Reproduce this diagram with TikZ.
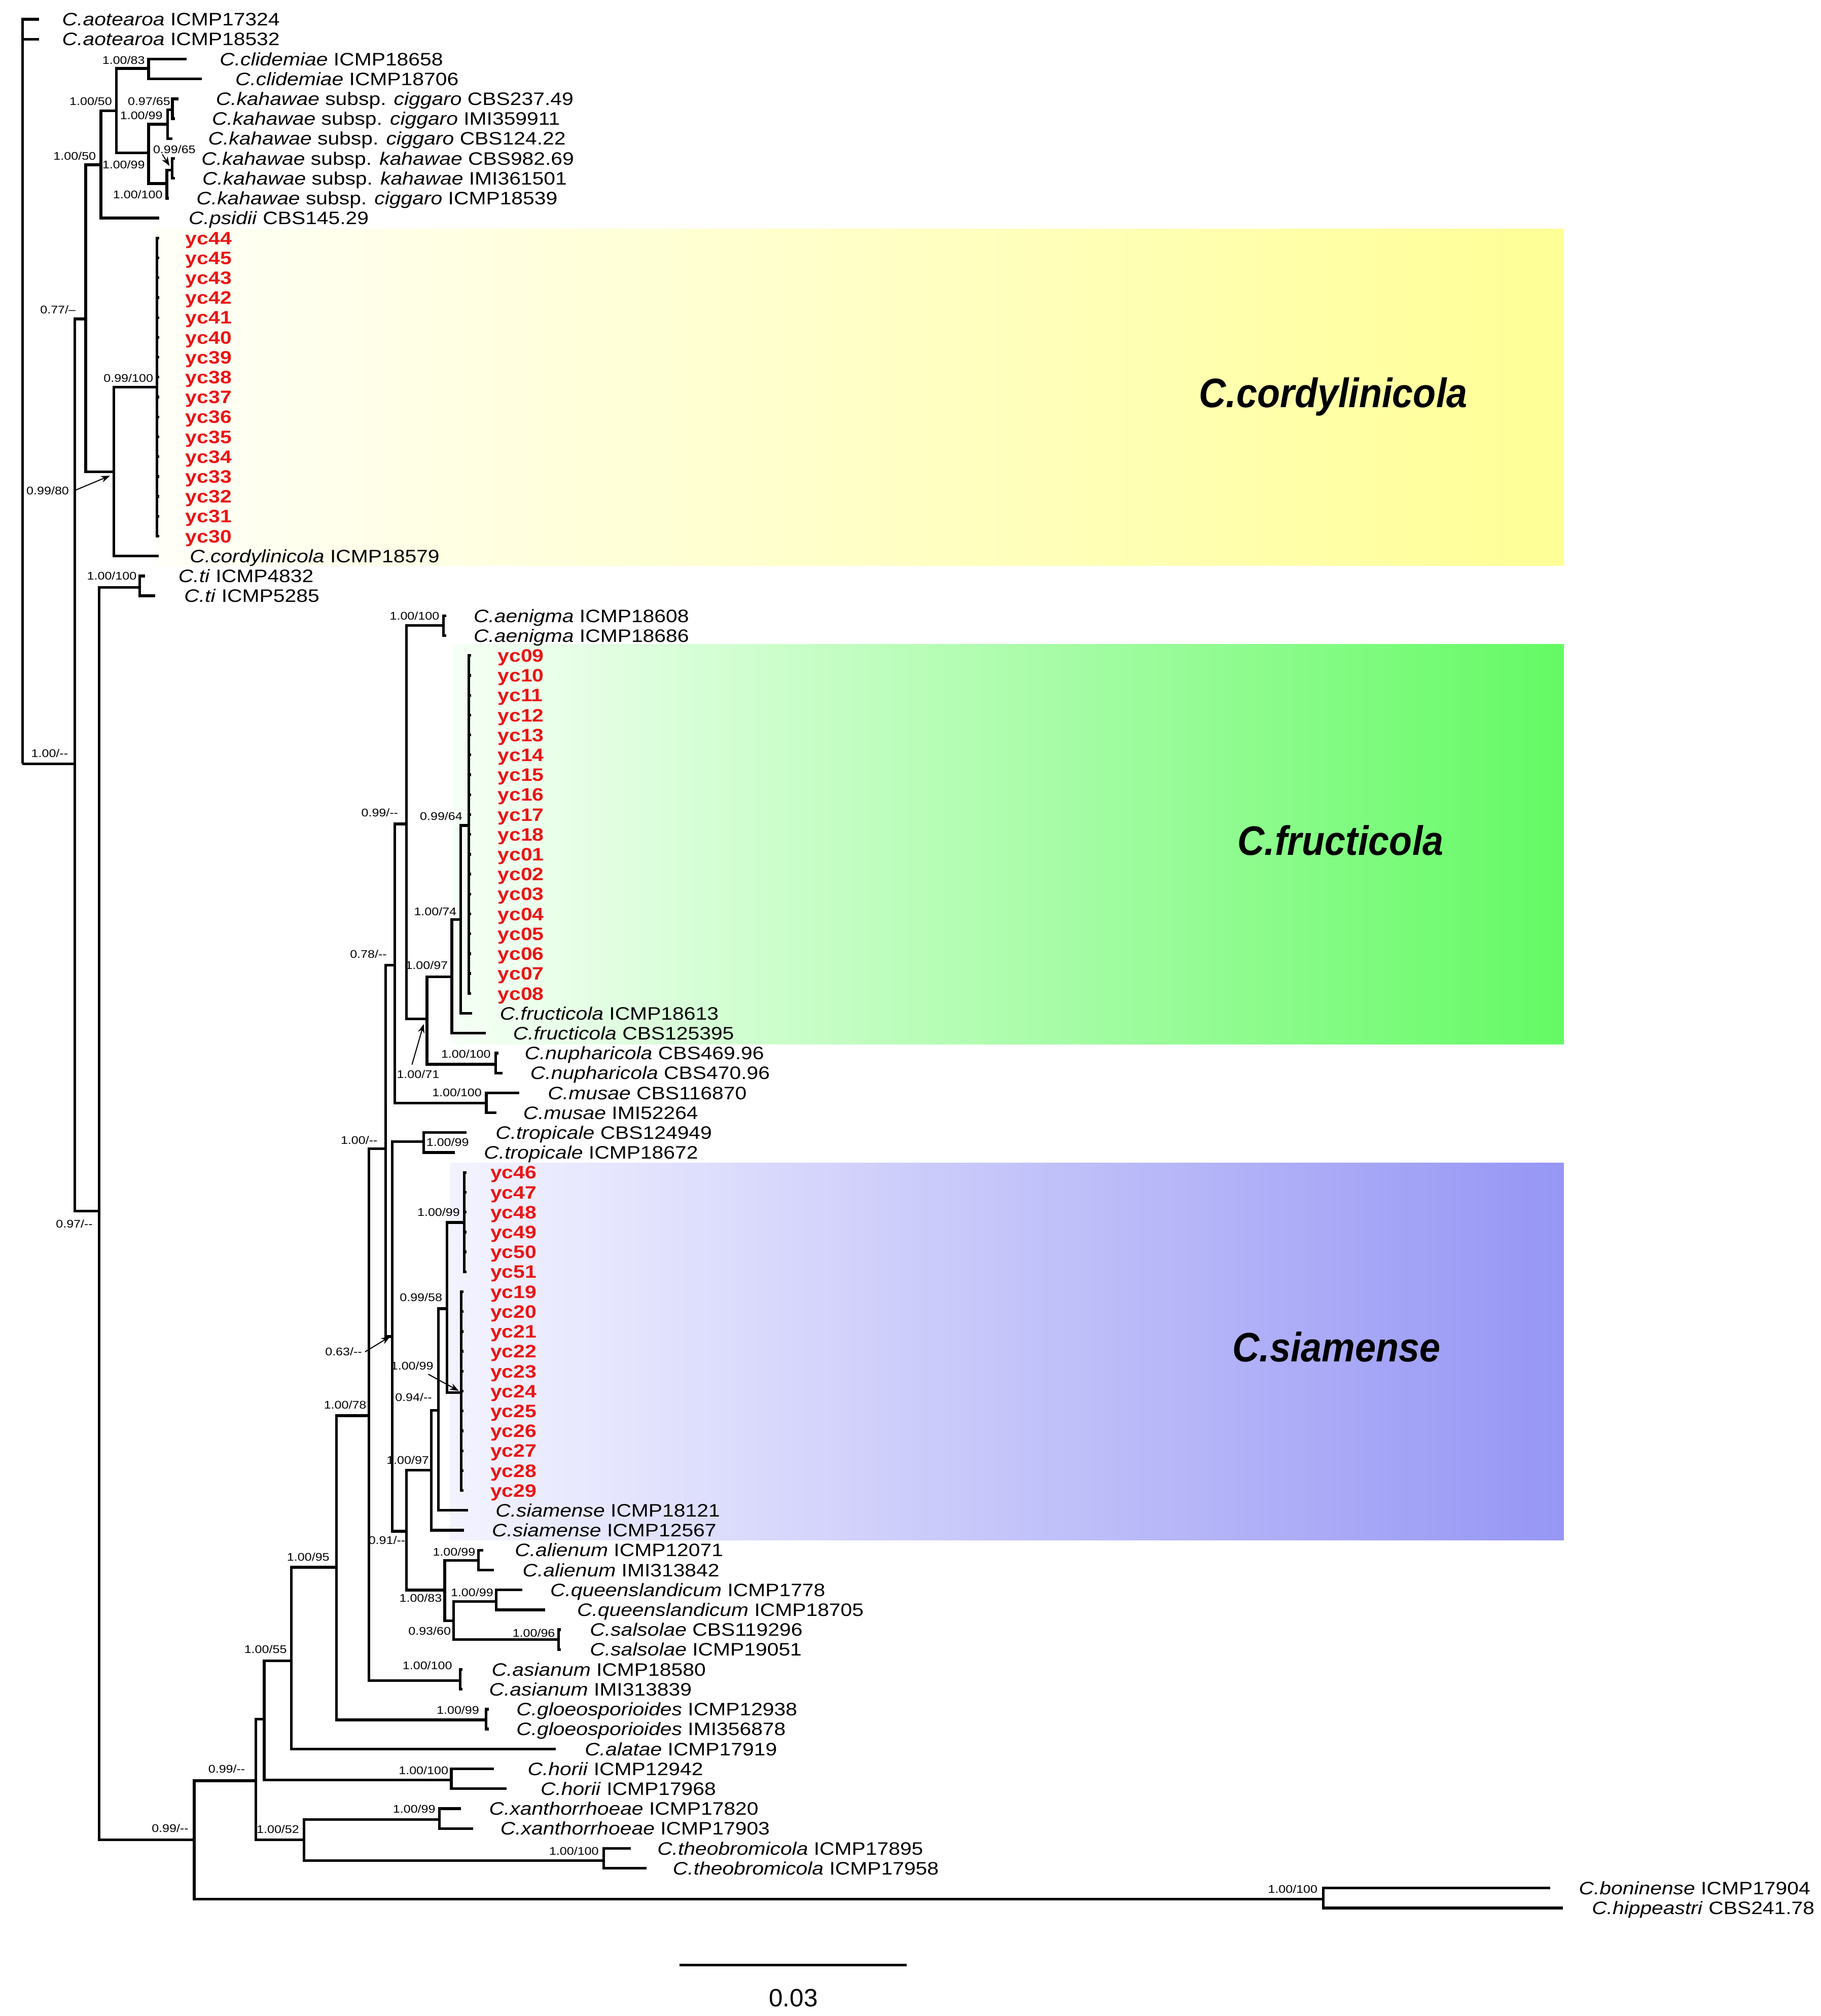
\documentclass[tikz,border=0pt]{standalone}
\usepackage{fontspec}
\setmainfont[FakeStretch=1.15]{Liberation Sans}
\newfontfamily\plainsans{Liberation Sans}
\newfontfamily\cladesans[FakeStretch=0.91]{Liberation Sans}
\usetikzlibrary{arrows.meta}
\definecolor{ycred}{RGB}{235,20,20}
\definecolor{yelL}{RGB}{255,255,248}
\definecolor{yelR}{RGB}{255,255,150}
\definecolor{grnL}{RGB}{246,255,246}
\definecolor{grnR}{RGB}{100,250,100}
\definecolor{bluL}{RGB}{243,243,255}
\definecolor{bluR}{RGB}{150,150,245}
\newcommand{\leaf}[4]{\coordinate (t#1) at (#2,{15+15.463*(#1-1)});
  \node[leaflab] (l#1) at (#3,{15+15.463*(#1-1)}) {#4};}
\newcommand{\ycleaf}[4]{\coordinate (t#1) at (#2,{15+15.463*(#1-1)});
  \node[yclab] (l#1) at (#3,{15+15.463*(#1-1)}) {#4};}
\newcommand{\kids}[2]{\foreach \ch in {#2}{\draw[br] (#1) |- (\ch);}}
\newcommand{\slab}[4]{\node[sup] (#1) at (#2,#3) {#4};}
\tikzset{
  br/.style={line width=1.05pt},
  leaflab/.style={anchor=base west, inner sep=0pt, yshift=-2.5pt, font=\fontsize{7}{8}\selectfont},
  yclab/.style={leaflab, text=ycred, font=\fontsize{7}{8}\selectfont\bfseries},
  sup/.style={anchor=base east, inner sep=0pt, yshift=-1.5pt, font=\fontsize{4.3}{5}\selectfont},
  clade/.style={anchor=base west, inner sep=0pt, font=\cladesans\bfseries\itshape\fontsize{16}{18}\selectfont},
  arr/.style={line width=0.4pt, -{Stealth[length=3.5pt,width=2.6pt]}},
}
\begin{document}
\begin{tikzpicture}[x=0.5pt,y=-0.5pt]
\useasboundingbox (0,0) rectangle (1416,1568);
\fill[white] (0,0) rectangle (1416,1568);
% clade boxes
\shade[left color=yelL, right color=yelR] (120,178) rectangle (1216,440);
\shade[left color=grnL, right color=grnR] (352,501) rectangle (1216,812);
\shade[left color=bluL, right color=bluR] (350,904.5) rectangle (1216,1198);
\node[clade] (cl1) at (932,316.8) {C.cordylinicola};
\node[clade] (cl2) at (962,665) {C.fructicola};
\node[clade] (cl3) at (958,1059) {C.siamense};
% leaves
\leaf{1}{30.2}{48}{\textit{C.aotearoa} ICMP17324}
\leaf{2}{30.2}{48}{\textit{C.aotearoa} ICMP18532}
\leaf{3}{145}{170.5}{\textit{C.clidemiae} ICMP18658}
\leaf{4}{157}{182.6}{\textit{C.clidemiae} ICMP18706}
\leaf{5}{138.7}{167.5}{\textit{C.kahawae} subsp. \textit{ciggaro} CBS237.49}
\leaf{6}{136}{164.5}{\textit{C.kahawae} subsp. \textit{ciggaro} IMI359911}
\leaf{7}{134.1}{161.5}{\textit{C.kahawae} subsp. \textit{ciggaro} CBS124.22}
\leaf{8}{136}{156.3}{\textit{C.kahawae} subsp. \textit{kahawae} CBS982.69}
\leaf{9}{136}{157}{\textit{C.kahawae} subsp. \textit{kahawae} IMI361501}
\leaf{10}{131.5}{152.4}{\textit{C.kahawae} subsp. \textit{ciggaro} ICMP18539}
\leaf{11}{123.7}{146.4}{\textit{C.psidii} CBS145.29}
\foreach \i/\n in {12/44,13/45,14/43,15/42,16/41,17/40,18/39,19/38,20/37,21/36,22/35,23/34,24/33,25/32,26/31,27/30}
  {\ycleaf{\i}{124}{143.9}{yc\n}}
\leaf{28}{123.3}{147.2}{\textit{C.cordylinicola} ICMP18579}
\leaf{29}{112.7}{138.4}{\textit{C.ti} ICMP4832}
\leaf{30}{120.7}{142.9}{\textit{C.ti} ICMP5285}
\leaf{31}{347}{368}{\textit{C.aenigma} ICMP18608}
\leaf{32}{347}{368}{\textit{C.aenigma} ICMP18686}
\foreach \i/\n in {33/09,34/10,35/11,36/12,37/13,38/14,39/15,40/16,41/17,42/18,43/01,44/02,45/03,46/04,47/05,48/06,49/07,50/08}
  {\ycleaf{\i}{366.5}{386.8}{yc\n}}
\leaf{51}{367}{388.4}{\textit{C.fructicola} ICMP18613}
\leaf{52}{377.8}{398.6}{\textit{C.fructicola} CBS125395}
\leaf{53}{387.6}{407.6}{\textit{C.nupharicola} CBS469.96}
\leaf{54}{391}{412.1}{\textit{C.nupharicola} CBS470.96}
\leaf{55}{404}{425.7}{\textit{C.musae} CBS116870}
\leaf{56}{386}{406.5}{\textit{C.musae} IMI52264}
\leaf{57}{362.8}{385}{\textit{C.tropicale} CBS124949}
\leaf{58}{353.8}{376}{\textit{C.tropicale} ICMP18672}
\foreach \i/\n in {59/46,60/47,61/48,62/49,63/50,64/51}
  {\ycleaf{\i}{363}{381}{yc\n}}
\foreach \i/\n in {65/19,66/20,67/21,68/22,69/23,70/24,71/25,72/26,73/27,74/28,75/29}
  {\ycleaf{\i}{360.5}{381}{yc\n}}
\leaf{76}{364}{385}{\textit{C.siamense} ICMP18121}
\leaf{77}{361}{382.2}{\textit{C.siamense} ICMP12567}
\leaf{78}{376}{400}{\textit{C.alienum} ICMP12071}
\leaf{79}{384}{406}{\textit{C.alienum} IMI313842}
\leaf{80}{406}{427.5}{\textit{C.queenslandicum} ICMP1778}
\leaf{81}{424}{448.4}{\textit{C.queenslandicum} ICMP18705}
\leaf{82}{436}{458.4}{\textit{C.salsolae} CBS119296}
\leaf{83}{436}{458.4}{\textit{C.salsolae} ICMP19051}
\leaf{84}{359.5}{382}{\textit{C.asianum} ICMP18580}
\leaf{85}{359.5}{380}{\textit{C.asianum} IMI313839}
\leaf{86}{380}{401.2}{\textit{C.gloeosporioides} ICMP12938}
\leaf{87}{380}{401.2}{\textit{C.gloeosporioides} IMI356878}
\leaf{88}{432.4}{454.4}{\textit{C.alatae} ICMP17919}
\leaf{89}{384}{410}{\textit{C.horii} ICMP12942}
\leaf{90}{394}{420}{\textit{C.horii} ICMP17968}
\leaf{91}{358.6}{380}{\textit{C.xanthorrhoeae} ICMP17820}
\leaf{92}{368}{388.8}{\textit{C.xanthorrhoeae} ICMP17903}
\leaf{93}{490.7}{510.8}{\textit{C.theobromicola} ICMP17895}
\leaf{94}{502.8}{522.9}{\textit{C.theobromicola} ICMP17958}
\leaf{95}{1205.4}{1227.5}{\textit{C.boninense} ICMP17904}
\leaf{96}{1215.4}{1237.6}{\textit{C.hippeastri} CBS241.78}
% internal nodes
\coordinate (root) at (17.5,594);
\coordinate (p1) at (58.3,594);
\coordinate (p2) at (66.7,248);
\coordinate (p4) at (78.5,128.2);
\coordinate (p6) at (90.5,86.1);
\coordinate (clid) at (115.6,53.3);
\coordinate (k0) at (115.5,119);
\coordinate (k1) at (130.4,96.6);
\coordinate (k2) at (134.1,85.5);
\coordinate (k3) at (129.8,142.7);
\coordinate (k4) at (133.8,132.2);
\coordinate (p5) at (88.5,367);
\coordinate (y1) at (122,301);
\coordinate (p3) at (77,942);
\coordinate (ti) at (108.7,456.8);
\coordinate (p7) at (151,1431);
\coordinate (bon) at (1029,1477);
\coordinate (na) at (199,1385);
\coordinate (nb) at (205.5,1337);
\coordinate (hor) at (351,1384.5);
\coordinate (nc) at (226.5,1291.6);
\coordinate (nd) at (261.7,1219);
\coordinate (glo) at (378,1337.7);
\coordinate (ne) at (287,1101);
\coordinate (asi) at (357.8,1307);
\coordinate (nf) at (300,893.5);
\coordinate (nq) at (307,750.6);
\coordinate (nr) at (316,640.8);
\coordinate (aen) at (345,486.5);
\coordinate (ns) at (332,792.5);
\coordinate (nup) at (385.4,827.8);
\coordinate (nt) at (351.4,759.8);
\coordinate (nu) at (358.2,715.3);
\coordinate (nv) at (364.6,642);
\coordinate (mus) at (378.2,858);
\coordinate (ng) at (305,1039.5);
\coordinate (tro) at (329.4,888);
\coordinate (nh) at (316,1191);
\coordinate (ni) at (335.5,1143.4);
\coordinate (nj) at (340.8,1097);
\coordinate (nk) at (347.5,1017.8);
\coordinate (y46) at (361,950.8);
\coordinate (y19) at (358.6,1083);
\coordinate (nl) at (345.8,1236.7);
\coordinate (ali) at (372,1213.7);
\coordinate (nm) at (352.7,1260.5);
\coordinate (qld) at (386,1245.5);
\coordinate (sal) at (434.3,1275.3);
\coordinate (nn) at (236.3,1431);
\coordinate (xan) at (341.6,1415.2);
\coordinate (theo) at (469.4,1447);
% branches
\kids{root}{t1,t2,p1}
\kids{p1}{p2,p3}
\kids{p2}{p4,p5}
\kids{p4}{p6,t11}
\kids{p6}{clid,k0}
\kids{clid}{t3,t4}
\kids{k0}{k1,k3}
\kids{k1}{k2,t7}
\kids{k2}{t5,t6}
\kids{k3}{k4,t10}
\kids{k4}{t8,t9}
\kids{p5}{y1,t28}
\kids{y1}{t12,t13,t14,t15,t16,t17,t18,t19,t20,t21,t22,t23,t24,t25,t26,t27}
\kids{p3}{ti,p7}
\kids{ti}{t29,t30}
\kids{p7}{na,bon}
\kids{bon}{t95,t96}
\kids{na}{nb,nn}
\kids{nb}{nc,hor}
\kids{hor}{t89,t90}
\kids{nc}{nd,t88}
\kids{nd}{ne,glo}
\kids{glo}{t86,t87}
\kids{ne}{nf,asi}
\kids{asi}{t84,t85}
\kids{nf}{nq,ng}
\kids{nq}{nr,mus}
\kids{nr}{aen,ns}
\kids{aen}{t31,t32}
\kids{ns}{nt,nup}
\kids{nup}{t53,t54}
\kids{nt}{nu,t52}
\kids{nu}{nv,t51}
\kids{nv}{t33,t34,t35,t36,t37,t38,t39,t40,t41,t42,t43,t44,t45,t46,t47,t48,t49,t50}
\kids{mus}{t55,t56}
\kids{ng}{tro,nh}
\kids{tro}{t57,t58}
\kids{nh}{ni,nl}
\kids{ni}{nj,t77}
\kids{nj}{nk,t76}
\kids{nk}{y46,y19}
\kids{y46}{t59,t60,t61,t62,t63,t64}
\kids{y19}{t65,t66,t67,t68,t69,t70,t71,t72,t73,t74,t75}
\kids{nl}{ali,nm}
\kids{ali}{t78,t79}
\kids{nm}{qld,sal}
\kids{qld}{t80,t81}
\kids{sal}{t82,t83}
\kids{nn}{xan,theo}
\kids{xan}{t91,t92}
\kids{theo}{t93,t94}
% support values
\slab{s1}{113}{46.7}{1.00/83}
\slab{s2}{87.5}{78.9}{1.00/50}
\slab{s3}{132.8}{78.9}{0.97/65}
\slab{s4}{126.8}{90}{1.00/99}
\slab{s5}{152.5}{116.4}{0.99/65}
\slab{s6}{75}{121.6}{1.00/50}
\slab{s7}{113}{128}{1.00/99}
\slab{s8}{126.8}{151.2}{1.00/100}
\slab{s9}{59.2}{241}{0.77/--}
\slab{s10}{119.5}{294.3}{0.99/100}
\slab{s11}{54}{381.6}{0.99/80}
\slab{s12}{106.6}{448}{1.00/100}
\slab{s13}{53.3}{586}{1.00/-{}-}
\slab{s14}{342}{479}{1.00/100}
\slab{s15}{310}{632}{0.99/-{}-}
\slab{s16}{360}{635}{0.99/64}
\slab{s17}{355.4}{709}{1.00/74}
\slab{s18}{301.2}{742}{0.78/-{}-}
\slab{s19}{348.7}{751}{1.00/97}
\slab{s20}{342}{835.6}{1.00/71}
\slab{s21}{382}{820}{1.00/100}
\slab{s22}{375}{850}{1.00/100}
\slab{s23}{294}{887}{1.00/-{}-}
\slab{s24}{365}{888.5}{1.00/99}
\slab{s25}{358}{943}{1.00/99}
\slab{s26}{344.3}{1009.3}{0.99/58}
\slab{s27}{281.9}{1051.5}{0.63/-{}-}
\slab{s28}{337.4}{1062.3}{1.00/99}
\slab{s29}{336.3}{1087}{0.94/-{}-}
\slab{s30}{285.3}{1092.6}{1.00/78}
\slab{s31}{334}{1135.8}{1.00/97}
\slab{s32}{315.6}{1198.1}{0.91/-{}-}
\slab{s33}{370}{1207}{1.00/99}
\slab{s34}{344}{1243}{1.00/83}
\slab{s35}{384}{1238.5}{1.00/99}
\slab{s36}{351}{1268.8}{0.93/60}
\slab{s37}{432}{1270}{1.00/96}
\slab{s38}{352}{1295.6}{1.00/100}
\slab{s39}{373}{1330}{1.00/99}
\slab{s40}{256.6}{1211}{1.00/95}
\slab{s41}{223.4}{1283}{1.00/55}
\slab{s42}{349}{1377}{1.00/100}
\slab{s43}{191}{1376}{0.99/-{}-}
\slab{s44}{339}{1407}{1.00/99}
\slab{s45}{233}{1423}{1.00/52}
\slab{s46}{466}{1439.6}{1.00/100}
\slab{s47}{147}{1422}{0.99/-{}-}
\slab{s48}{72.5}{952}{0.97/-{}-}
\slab{s49}{1025}{1469.4}{1.00/100}
% pointer arrows
\coordinate (a5s) at (126.2,120);
\coordinate (a5e) at (131.8,129);
\coordinate (a11e) at (85.5,370);
\coordinate (a20s) at (320.4,828);
\coordinate (a20e) at (329.5,796.4);
\coordinate (a27e) at (303.4,1039.5);
\coordinate (a28s) at (333,1068.8);
\coordinate (a28e) at (356.8,1081.8);
\draw[arr] ([xshift=2pt]s11.east) -- (a11e);
\draw[arr] (a5s) -- (a5e);
\draw[arr] (a20s) -- (a20e);
\draw[arr] ([xshift=1pt]s27.east) -- (a27e);
\draw[arr] (a28s) -- (a28e);
% scale bar
\coordinate (sb1) at (528.3,1528.3);
\coordinate (sb2) at (705,1528.3);
\draw[br] (sb1) -- (sb2);
\node[anchor=base, inner sep=0pt, font=\plainsans\fontsize{9.75}{11}\selectfont] (sbl) at (617,1560.5) {0.03};
\end{tikzpicture}
\end{document}
